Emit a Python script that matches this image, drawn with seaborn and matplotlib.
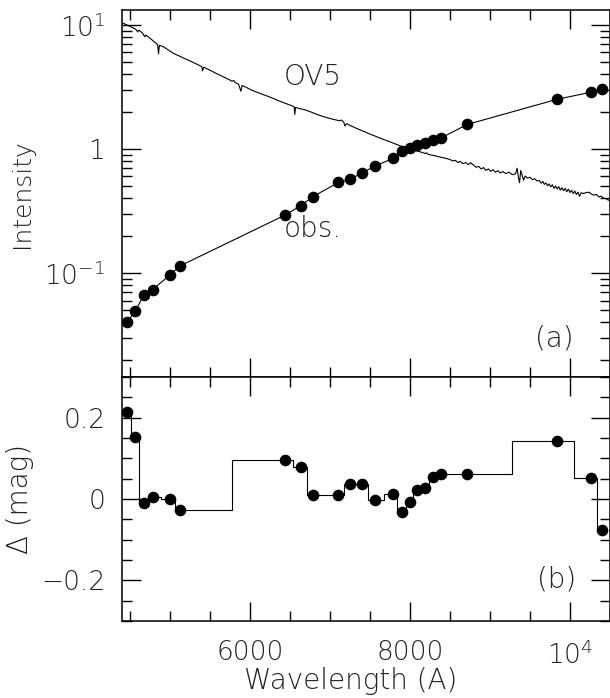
import numpy as np
import pandas as pd
import matplotlib
matplotlib.use("Agg")
import matplotlib.pyplot as plt
import matplotlib.ticker as mticker
from matplotlib import font_manager as fm
import seaborn as sns

# ---------------- data ----------------
obs_wave = [4462, 4571, 4675, 4791, 5004, 5129, 6437, 6637, 6787, 7109, 7254, 7400,
            7559, 7787, 7896, 8000, 8091, 8191, 8291, 8384, 8716, 9834, 10262, 10404]
obs_int = [0.0399, 0.049, 0.0662, 0.0736, 0.0967, 0.114, 0.292, 0.348, 0.412, 0.537,
           0.571, 0.638, 0.726, 0.838, 0.960, 1.009, 1.081, 1.114, 1.178, 1.222,
           1.576, 2.51, 2.87, 3.02]
delta_mag = [0.215, 0.153, -0.010, 0.005, -0.001, -0.027, 0.096, 0.078, 0.010, 0.010,
             0.037, 0.037, -0.002, 0.012, -0.031, -0.008, 0.022, 0.027, 0.053, 0.061,
             0.061, 0.143, 0.052, -0.076]

spec_wave = [4410, 4480, 4540, 4580, 4600, 4615, 4660, 4690, 4705, 4760, 4820, 4850,
             4861, 4872, 4920, 4980, 5050, 5120, 5200, 5280, 5350, 5400, 5412, 5425,
             5500, 5580, 5660, 5740, 5780, 5800, 5820, 5860, 5890, 5905, 5960, 6040,
             6120, 6200, 6280, 6360, 6440, 6520, 6555, 6563, 6572, 6620, 6700, 6780,
             6870, 6960, 7050, 7120, 7150, 7175, 7190, 7210, 7270, 7340, 7420, 7500,
             7580, 7660, 7740, 7830, 7920, 8000, 8080, 8150, 8190, 8210, 8230, 8300,
             8380, 8460, 8500, 8540, 8570, 8600, 8630, 8660, 8700, 8730, 8760, 8790,
             8830, 8860, 8890, 8920, 8950, 8980, 9010, 9040, 9070, 9100, 9130, 9160,
             9200, 9240, 9280, 9320, 9340, 9355, 9370, 9385, 9400, 9420, 9440, 9470,
             9500, 9530, 9560, 9590, 9620, 9640, 9660, 9680, 9700, 9720, 9740, 9760,
             9780, 9800, 9820, 9840, 9860, 9880, 9900, 9920, 9940, 9960, 9980, 10000,
             10020, 10040, 10060, 10080, 10100, 10120, 10140, 10170, 10200, 10240,
             10270, 10300, 10330, 10360, 10390, 10420, 10450, 10480, 10510]
spec_int = [10.4, 9.89, 9.51, 9.18, 8.81, 9.08, 8.61, 8.04, 8.28, 7.76, 7.21, 6.95,
            5.86, 6.85, 6.68, 6.31, 5.89, 5.62, 5.31, 5.04, 4.79, 4.62, 4.27, 4.57,
            4.33, 4.07, 3.85, 3.63, 3.51, 3.57, 3.43, 3.33, 2.92, 3.25, 3.13, 2.95,
            2.82, 2.70, 2.58, 2.45, 2.34, 2.24, 2.19, 1.90, 2.16, 2.12, 2.06, 1.97,
            1.87, 1.79, 1.73, 1.69, 1.71, 1.64, 1.53, 1.60, 1.53, 1.46, 1.39, 1.32,
            1.26, 1.20, 1.15, 1.09, 1.035, 0.995, 0.965, 0.940, 0.920, 0.930, 0.905, 0.885,
            0.860, 0.838, 0.822, 0.800, 0.809, 0.778, 0.794, 0.762, 0.776, 0.748, 0.775, 0.745,
            0.712, 0.724, 0.690, 0.708, 0.672, 0.690, 0.661, 0.680, 0.650, 0.668, 0.640, 0.658,
            0.633, 0.650, 0.620, 0.631, 0.700, 0.595, 0.535, 0.670, 0.625, 0.560, 0.605, 0.582,
            0.592, 0.566, 0.575, 0.552, 0.556, 0.530, 0.547, 0.518, 0.533, 0.505, 0.523, 0.494,
            0.515, 0.482, 0.503, 0.476, 0.497, 0.466, 0.487, 0.461, 0.481, 0.452, 0.475, 0.446,
            0.465, 0.437, 0.458, 0.430, 0.449, 0.415, 0.444, 0.437, 0.445, 0.448,
            0.432, 0.424, 0.430, 0.410, 0.417, 0.400, 0.398, 0.386, 0.389]

x_major = [6000, 8000, 10000]
x_major_labels = ["6000", "8000", "$10^4$"]
y_top_major = [0.1, 1, 10]
y_top_labels = ["$10^{-1}$", "1", "$10^{1}$"]
y_bot_major = [-0.2, 0, 0.2]
y_bot_labels = ["\u22120.2", "0", "0.2"]

df_obs = pd.DataFrame({"wave": obs_wave, "intensity": obs_int, "delta": delta_mag})
df_spec = pd.DataFrame({"wave": spec_wave, "intensity": spec_int})

# ---------------- style ----------------
sns.set_theme(style="ticks")

font_fam = "DejaVu Sans"
for fam in ["DejaVu Sans", "Lato", "Open Sans", "Roboto", "Noto Sans", "Inter"]:
    try:
        p = fm.findfont(fm.FontProperties(family=fam, weight="light"),
                        fallback_to_default=False)
        if any(k in p.lower() for k in ("light", "thin", "hairline")):
            font_fam = fam
            break
    except Exception:
        pass

tc = "#222222"
plt.rcParams["font.family"] = [font_fam, "DejaVu Sans"]
plt.rcParams["font.weight"] = "light"
plt.rcParams["axes.labelweight"] = "light"
plt.rcParams["mathtext.fontset"] = "custom"
plt.rcParams["mathtext.rm"] = f"{font_fam}:light"
plt.rcParams["mathtext.it"] = f"{font_fam}:light"
plt.rcParams["mathtext.default"] = "rm"
plt.rcParams["text.color"] = tc

fig = plt.figure(figsize=(6.10, 6.98), dpi=100)
left, right = 122 / 610, 1.0
top1, mid, bot = 1 - 10 / 698, 1 - 377 / 698, 1 - 621 / 698
ax1 = fig.add_axes([left, mid, right - left, top1 - mid])
ax2 = fig.add_axes([left, bot, right - left, mid - bot], sharex=ax1)

# ---------------- top panel ----------------
sns.lineplot(data=df_spec, x="wave", y="intensity", ax=ax1, color="black",
             lw=0.8, estimator=None, sort=False)
sns.lineplot(data=df_obs, x="wave", y="intensity", ax=ax1, color="black",
             lw=0.8, estimator=None, sort=False)
sns.scatterplot(data=df_obs, x="wave", y="intensity", ax=ax1, color="black",
                s=70, linewidth=0, zorder=5)
ax1.set_yscale("log")
ax1.set_xlim(4405, 10500)
ax1.set_ylim(0.0145, 13.2)
ax1.yaxis.set_major_locator(mticker.FixedLocator(y_top_major))
ax1.yaxis.set_major_formatter(mticker.FixedFormatter(y_top_labels))
ax1.yaxis.set_minor_locator(mticker.LogLocator(base=10, subs=np.arange(2, 10)))
ax1.yaxis.set_minor_formatter(mticker.NullFormatter())
ax1.set_xlabel("")
ax1.set_ylabel("Intensity", fontsize=18, color=tc, fontweight="light")
ax1.yaxis.set_label_coords(-0.18, 0.5)
ax1.text(6790, 3.77, "OV5", ha="center", va="center", fontsize=20, color=tc)
ax1.text(6790, 0.228, "obs.", ha="center", va="center", fontsize=20, color=tc)
ax1.text(0.885, 0.105, "(a)", transform=ax1.transAxes, ha="center", va="center",
         fontsize=20, color=tc)
plt.setp(ax1.get_xticklabels(), visible=False)

# ---------------- bottom panel ----------------
sns.lineplot(data=df_obs, x="wave", y="delta", ax=ax2, color="black", lw=0.8,
             estimator=None, sort=False, drawstyle="steps-mid")
sns.scatterplot(data=df_obs, x="wave", y="delta", ax=ax2, color="black",
                s=70, linewidth=0, zorder=5)
ax2.set_ylim(-0.3, 0.3)
ax2.yaxis.set_major_locator(mticker.FixedLocator(y_bot_major))
ax2.yaxis.set_major_formatter(mticker.FixedFormatter(y_bot_labels))
ax2.yaxis.set_minor_locator(mticker.MultipleLocator(0.05))
ax2.set_ylabel("\u0394 (mag)", fontsize=20, color=tc, fontweight="light")
ax2.yaxis.set_label_coords(-0.18, 0.5)
ax2.set_xlabel("")
ax2.text(0.89, 0.17, "(b)", transform=ax2.transAxes, ha="center", va="center",
         fontsize=20, color=tc)

ax2.xaxis.set_major_locator(mticker.FixedLocator(x_major))
ax2.xaxis.set_major_formatter(mticker.FixedFormatter(x_major_labels))
ax2.xaxis.set_minor_locator(mticker.MultipleLocator(500))
ax2.set_xlim(4405, 10500)

fig.text(351 / 610, 1 - 681 / 698, "Wavelength (A)", ha="center", va="center",
         fontsize=20, color=tc)

for ax in (ax1, ax2):
    ax.tick_params(which="both", direction="in", top=True, right=True, width=1,
                   colors="black", labelcolor=tc)
    ax.tick_params(which="major", length=13.5, labelsize=19)
    ax.tick_params(which="minor", length=7)
    ax.tick_params(axis="y", which="major", pad=12)
    ax.tick_params(axis="x", which="major", pad=14)
    for s in ax.spines.values():
        s.set_linewidth(1.1)
        s.set_color("black")
    ax.grid(False)

fig.savefig("out.png", dpi=100)
